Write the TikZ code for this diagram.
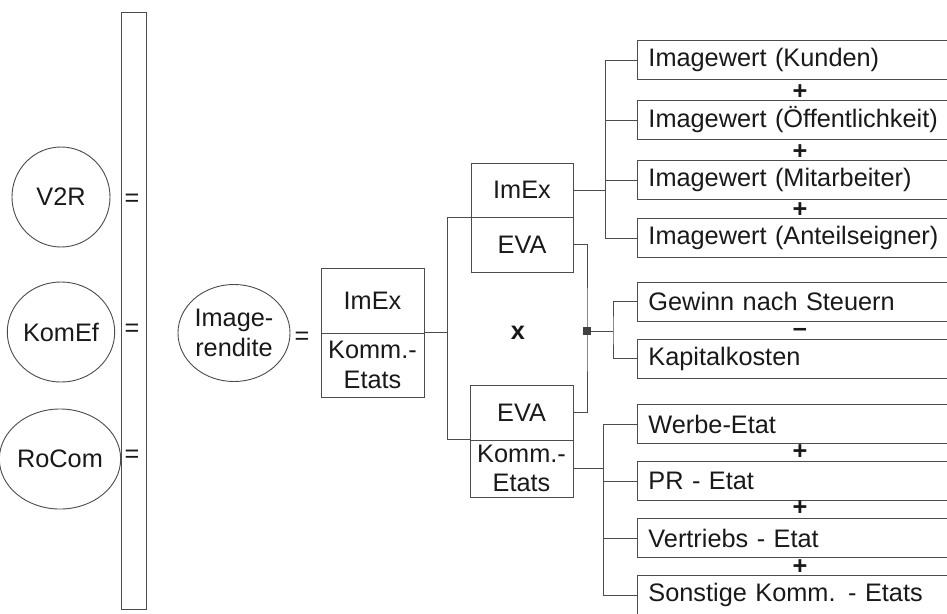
\documentclass[tikz,border=0pt]{standalone}
\usepackage{fontspec}
\setmainfont{Liberation Sans}
\usetikzlibrary{shapes.geometric}

\begin{document}
\begin{tikzpicture}[x=0.025cm,y=-0.025cm,
  every node/.style={text=black!90, font=\fontsize{18}{21}\selectfont},
  linie/.style={draw=black!70, line width=0.65pt},
  rund/.style={linie, ellipse, inner sep=0pt, align=center},
  kasten/.style={linie, rectangle, inner sep=0pt, align=center},
  posten/.style={linie, rectangle, anchor=west, minimum height=0.975cm,
    text width=8cm, inner xsep=0.275cm, inner ysep=0pt, align=left},
  zeichen/.style={font=\fontsize{18}{21}\selectfont\bfseries}]
\useasboundingbox (0,0) rectangle (947,613);
\clip (0,0) rectangle (947,613);
% linke Spalte
\node[linie, minimum width=0.625cm, minimum height=14.9cm, inner sep=0pt] (balken) at (133.5,311) {};
\node[rund, minimum width=2.45cm, minimum height=2.5cm] (vzr) at (61,197) {V2R};
\node[rund, minimum width=2.45cm, minimum height=2.5cm] (komef) at (61,332) {KomEf};
\node[rund, minimum width=2.45cm, minimum height=2.5cm] (rocom) at (60,459) {RoCom};
\node (gl1) at (132,200) {=};
\node (gl2) at (132,330) {=};
\node (gl3) at (132,456) {=};
% Imagerendite
\node[rund, minimum width=2.8cm, minimum height=2.425cm] (rendite) at (234,333) {Image-\\rendite};
\node (gl4) at (302,338) {=};
\node[kasten, minimum width=2.575cm, minimum height=1.625cm] (imexA) at (372.5,300.5) {ImEx};
\node[kasten, minimum width=2.575cm, minimum height=1.6cm] (etatA) at (372.5,365) {Komm.-\\Etats};
% mittlere Spalte
\node[kasten, minimum width=2.55cm, minimum height=1.35cm] (imexB) at (522,190) {ImEx};
\node[kasten, minimum width=2.55cm, minimum height=1.375cm] (evaB) at (522,244.5) {EVA};
\node (mal) at (518,333) {\textbf{x}};
\node[kasten, minimum width=2.575cm, minimum height=1.375cm] (evaC) at (521.5,412.5) {EVA};
\node[kasten, minimum width=2.575cm, minimum height=1.425cm] (etatC) at (521.5,468.5) {Komm.-\\Etats};
% rechte Spalte
\node[posten] (kunden) at (637,60) {Imagewert (Kunden)};
\node[posten] (oeff) at (637,120) {Imagewert (Öffentlichkeit)};
\node[posten] (mitarb) at (637,180) {Imagewert (Mitarbeiter)};
\node[posten] (anteil) at (637,238) {Imagewert (Anteilseigner)};
\node[posten] (gewinn) at (637,301.5) {Gewinn nach Steuern};
\node[posten] (kapital) at (637,358.5) {Kapitalkosten};
\node[posten] (werbe) at (637,424) {Werbe-Etat};
\node[posten] (pr) at (637,481) {PR - Etat};
\node[posten] (vertrieb) at (637,538) {Vertriebs - Etat};
\node[posten] (sonst) at (637,595) {Sonstige Komm. - Etats};
\foreach \y in {92,152,210,452,508,567}
  \node[zeichen] (plus\y) at (800,\y) {+};
\node[zeichen] (minus) at (800,332) {--};
% Verbindungen
\draw[linie] (etatA.north east) -- ++(23,0) coordinate (gabel);
\draw[linie] (imexB.south west) -| (gabel) |- (etatC.north west);
\coordinate (punkt) at (587,331);
\draw[linie] (evaB.east) -| (punkt) |- (evaC.east);
\node[fill=black!75, minimum size=0.2cm, inner sep=0pt] (knoten) at (punkt) {};
\coordinate (gabel2) at (613,331);
\draw[linie] (knoten) -- (gabel2);
\draw[linie] (gewinn.west) -| (gabel2) |- (kapital.west);
\draw[linie] (imexB.east) -- ++(32,0) coordinate (gabel3);
\draw[linie] (kunden.west) -| (gabel3) |- (anteil.west);
\draw[linie] (oeff.west) -- (oeff.west -| gabel3);
\draw[linie] (mitarb.west) -- (mitarb.west -| gabel3);
\draw[linie] (etatC.east) -- ++(30,0) coordinate (gabel4);
\draw[linie] (werbe.west) -| (gabel4) |- (sonst.west);
\draw[linie] (pr.west) -- (pr.west -| gabel4);
\draw[linie] (vertrieb.west) -- (vertrieb.west -| gabel4);
\end{tikzpicture}
\end{document}
